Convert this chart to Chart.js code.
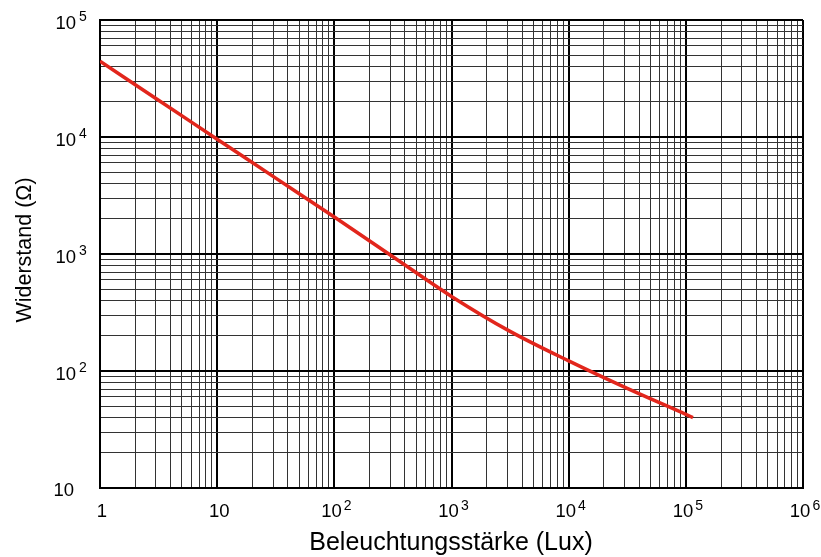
<!DOCTYPE html>
<html>
<head>
<meta charset="utf-8">
<script src="https://cdn.jsdelivr.net/npm/chart.js@4.4.0/dist/chart.umd.min.js"></script>
<style>
  html, body { margin: 0; padding: 0; background: #fff; }
  #wrap { width: 821px; height: 557px; }
</style>
</head>
<body>
<div id="wrap"><canvas id="chart" width="821" height="557"></canvas></div>
<script>
// DATA
const lux = [1, 3.16, 10, 31.6, 100, 316, 1000, 3162, 10000, 31623, 100000, 115000];
const ohm = [44400, 20600, 9580, 4450, 2070, 948, 434, 218, 122, 71, 42.6, 40];

const xTickExps = [0, 1, 2, 3, 4, 5, 6];
const yTickExps = [1, 2, 3, 4, 5];

const xTitle = 'Beleuchtungsstärke (Lux)';
const yTitle = 'Widerstand (Ω)';

const FONT = '"Liberation Sans", Arial, sans-serif';
const BASE = '18.5px ' + FONT;
const SUP = '14px ' + FONT;

// all 1..9 x 10^n positions for the grid
function logTicks(minExp, maxExp) {
    const out = [];
    for (let e = minExp; e < maxExp; e++) {
        for (let m = 1; m < 10; m++) out.push({ value: m * Math.pow(10, e) });
    }
    out.push({ value: Math.pow(10, maxExp) });
    return out;
}

function isDecade(v) {
    const l = Math.log10(v);
    return Math.abs(l - Math.round(l)) < 1e-9;
}

const gridOpts = {
    drawTicks: false,
    color: ctx => isDecade(ctx.tick.value) ? '#000' : '#333',
    lineWidth: ctx => isDecade(ctx.tick.value) ? 2 : 1
};

// tick labels with superscript exponents + axis titles
const labelPlugin = {
    id: 'labels',
    afterDraw(chart) {
        const c = chart.ctx;
        const xs = chart.scales.x, ys = chart.scales.y;
        c.save();
        c.fillStyle = '#000';
        c.textBaseline = 'alphabetic';

        // y axis
        yTickExps.forEach(e => {
            const py = ys.getPixelForValue(Math.pow(10, e));
            c.font = BASE;
            c.textAlign = 'right';
            if (e === 1) {
                c.fillText('10', 74, py + 8);
            } else {
                c.fillText('10', 76, py + 9);
                c.textAlign = 'left';
                c.font = SUP;
                c.fillText(String(e), 79, py + 1);
            }
        });

        // x axis
        xTickExps.forEach(e => {
            const px = xs.getPixelForValue(Math.pow(10, e));
            c.font = BASE;
            if (e < 2) {
                c.textAlign = 'center';
                c.fillText(e === 0 ? '1' : '10', px + 2, 517);
            } else {
                const w10 = c.measureText('10').width;
                c.font = SUP;
                const wExp = c.measureText(String(e)).width;
                const left = px + 2 - (w10 + 2 + wExp) / 2;
                c.textAlign = 'left';
                c.font = BASE;
                c.fillText('10', left, 517);
                c.font = SUP;
                c.fillText(String(e), left + w10 + 2, 510);
            }
        });

        // axis titles
        c.textAlign = 'center';
        c.font = '25px ' + FONT;
        c.fillText(xTitle, 451, 550);
        c.font = '21.5px ' + FONT;
        c.translate(31, 250);
        c.rotate(-Math.PI / 2);
        c.fillText(yTitle, 0, 0);
        c.restore();
    }
};

new Chart(document.getElementById('chart'), {
    type: 'line',
    data: {
        datasets: [{
            data: lux.map((v, i) => ({ x: v, y: ohm[i] })),
            borderColor: '#e2261c',
            borderWidth: 3.5,
            pointRadius: 0,
            fill: false,
            cubicInterpolationMode: 'monotone'
        }]
    },
    options: {
        responsive: false,
        animation: false,
        layout: { padding: { left: 100, top: 20, right: 18, bottom: 69 } },
        plugins: { legend: { display: false }, tooltip: { enabled: false } },
        scales: {
            x: {
                type: 'logarithmic',
                min: 1,
                max: 1e6,
                afterBuildTicks: s => { s.ticks = logTicks(0, 6); },
                ticks: { display: false },
                grid: gridOpts,
                border: { display: true, color: '#000', width: 2 }
            },
            y: {
                type: 'logarithmic',
                min: 10,
                max: 1e5,
                afterBuildTicks: s => { s.ticks = logTicks(1, 5); },
                ticks: { display: false },
                grid: gridOpts,
                border: { display: true, color: '#000', width: 2 }
            }
        }
    },
    plugins: [labelPlugin]
});
</script>
</body>
</html>
